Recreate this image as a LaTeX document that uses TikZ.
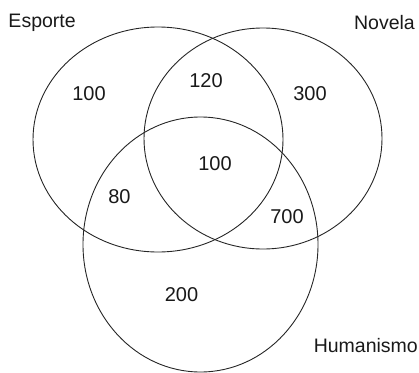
\documentclass[tikz,border=0pt]{standalone}
\usepackage{fontspec}
\setmainfont{Liberation Sans}
\begin{document}
\begin{tikzpicture}[x=1pt,y=-1pt,
  ring/.style={draw=black!85,line width=0.9pt},
  num/.style={anchor=base,inner sep=0pt,font=\fontsize{20}{24}\selectfont,text=black!90},
  setname/.style={inner sep=0pt,font=\fontsize{19.5}{23}\selectfont,text=black!90}]
\useasboundingbox (0,0) rectangle (419,372);
\draw[ring] (158,139.5) ellipse [x radius=125pt, y radius=112.5pt];
\draw[ring] (263,138.5) ellipse [x radius=119pt, y radius=110.5pt];
\draw[ring] (200.5,244.5) ellipse [x radius=117.5pt, y radius=127.5pt];
\node[setname,anchor=base west] (esporte) at (8.3,27) {Esporte};
\node[setname,anchor=base east] (novela) at (415,29) {Novela};
\node[setname,anchor=base east] (humanismo) at (418,352.7) {Humanismo};
\node[num] (nE) at (89,100) {100};
\node[num] (nEN) at (206,87) {120};
\node[num] (nN) at (310,100) {300};
\node[num] (nENH) at (215,170) {100};
\node[num] (nEH) at (119.5,203) {80};
\node[num] (nNH) at (287,223) {700};
\node[num] (nH) at (181.5,301) {200};
\end{tikzpicture}
\end{document}
